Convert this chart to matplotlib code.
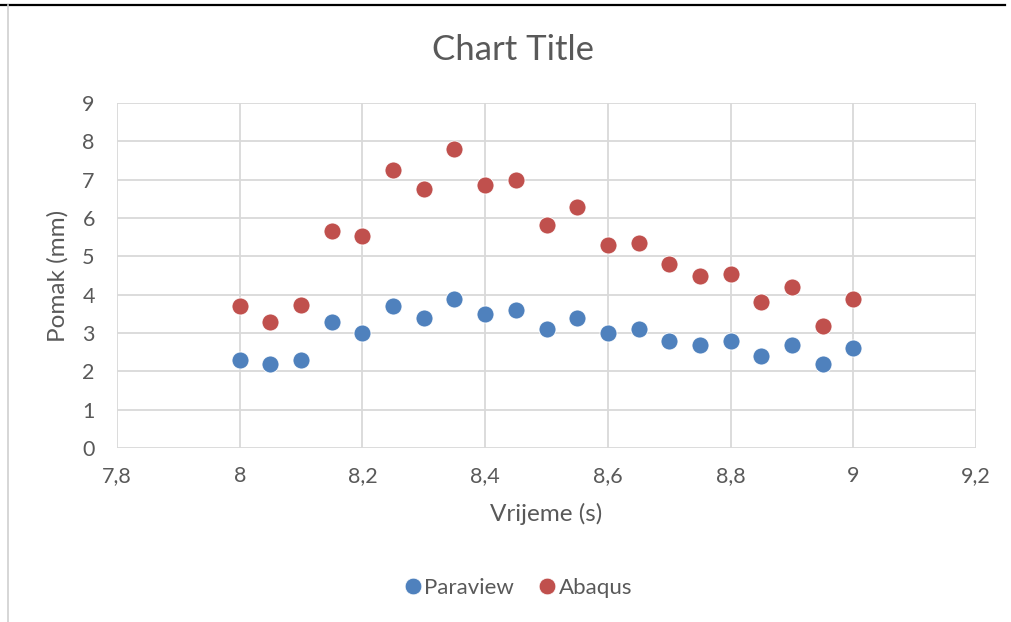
import matplotlib; matplotlib.use("Agg")
import matplotlib.pyplot as plt
from matplotlib.lines import Line2D

plt.rcParams["font.family"] = ["Lato", "DejaVu Sans"]

# data
time = [8.00, 8.05, 8.10, 8.15, 8.20, 8.25, 8.30, 8.35, 8.40, 8.45, 8.50,
        8.55, 8.60, 8.65, 8.70, 8.75, 8.80, 8.85, 8.90, 8.95, 9.00]
paraview = [2.3, 2.2, 2.3, 3.3, 3.0, 3.7, 3.4, 3.9, 3.5, 3.6, 3.1,
            3.4, 3.0, 3.1, 2.8, 2.7, 2.8, 2.4, 2.7, 2.2, 2.6]
abaqus = [3.7, 3.3, 3.72, 5.67, 5.53, 7.26, 6.76, 7.8, 6.86, 7.0, 5.83,
          6.3, 5.3, 5.36, 4.8, 4.48, 4.54, 3.81, 4.2, 3.18, 3.88]
xticks = [7.8, 8.0, 8.2, 8.4, 8.6, 8.8, 9.0, 9.2]
xticklabels = ["7,8", "8", "8,2", "8,4", "8,6", "8,8", "9", "9,2"]
yticks = list(range(0, 10))

BLUE = "#4F81BD"; RED = "#C0504D"; TXT = "#595959"; GRID = "#D9D9D9"

fig = plt.figure(figsize=(10.11, 6.22), dpi=100)
W, H = 1011, 622
ax = fig.add_axes([117 / W, 1 - 448 / H, (976 - 117) / W, (448 - 103) / H])

ax.scatter(time, paraview, s=150, color=BLUE, edgecolors="white", linewidths=0.6, zorder=3)
ax.scatter(time, abaqus, s=150, color=RED, edgecolors="white", linewidths=0.6, zorder=3)

ax.set_xlim(7.8, 9.2); ax.set_ylim(0, 9)
ax.set_xticks(xticks); ax.set_xticklabels(xticklabels)
ax.set_yticks(yticks)
ax.grid(True, color=GRID, lw=1.3, zorder=0)
ax.set_axisbelow(True)
for s in ax.spines.values():
    s.set_visible(False)
ax.tick_params(length=0, labelsize=15.5, labelcolor=TXT)
ax.tick_params(axis="x", pad=13)
ax.tick_params(axis="y", pad=16)
ax.set_xlabel("Vrijeme (s)", fontsize=17.5, color=TXT, labelpad=12)
ax.set_ylabel("Pomak (mm)", fontsize=17.5, color=TXT, labelpad=10)

fig.text(513 / W, 1 - 50 / H, "Chart Title", ha="center", va="center", fontsize=25, color=TXT)

# frame lines of the surrounding sheet
fig.add_artist(Line2D([0, 1005 / W], [1 - 5 / H] * 2, color="black", lw=1.6))
fig.add_artist(Line2D([7.5 / W] * 2, [0, 1 - 5 / H], color="#D0D0D0", lw=1.2))

handles = [Line2D([], [], ls="", marker="o", ms=12, color=BLUE, markeredgecolor="white", markeredgewidth=0.5),
           Line2D([], [], ls="", marker="o", ms=12, color=RED, markeredgecolor="white", markeredgewidth=0.5)]
fig.legend(handles, ["Paraview", "Abaqus"], loc="center", bbox_to_anchor=(517 / W, 1 - 588 / H), ncol=2,
           frameon=False, fontsize=16, labelcolor=TXT, handletextpad=0.0, columnspacing=1.0, handlelength=1.0)

fig.savefig("out.png", dpi=100)
